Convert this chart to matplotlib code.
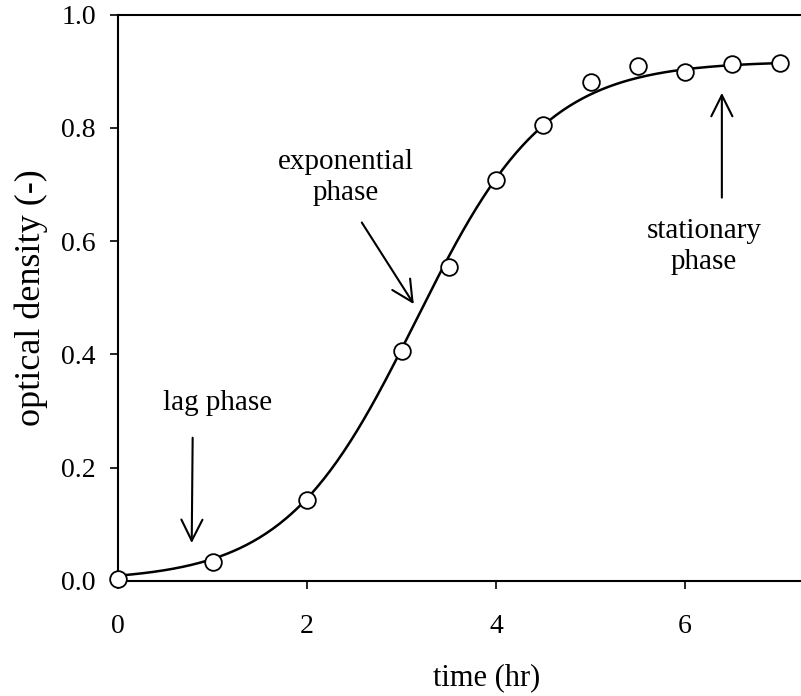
import numpy as np
import matplotlib
matplotlib.use("Agg")
from matplotlib import pyplot as plt

# measured growth data
time_hr = [0, 1, 2, 3, 3.5, 4, 4.5, 5, 5.5, 6, 6.5, 7]
optical_density = [0.003, 0.033, 0.143, 0.406, 0.555, 0.708, 0.806, 0.881,
                   0.909, 0.899, 0.913, 0.914]

# logistic model drawn through the points
K = 0.918
r = 1.45
t_mid = 3.15

x_ticks = [0, 2, 4, 6]
y_ticks = [0.0, 0.2, 0.4, 0.6, 0.8, 1.0]

# annotations: label, text position, arrow tail, arrow tip
notes = [
    ("lag phase", (1.05, 0.314), (0.79, 0.253), (0.78, 0.067)),
    ("exponential\nphase", (2.41, 0.712), (2.58, 0.633), (3.13, 0.489)),
    ("stationary\nphase", (6.20, 0.590), (6.39, 0.677), (6.39, 0.862)),
]

plt.rcParams["font.family"] = ["Liberation Serif", "DejaVu Serif"]
plt.rcParams["font.size"] = 20

fig = plt.figure(figsize=(8.01, 6.96), dpi=100)
ax = fig.add_axes([118 / 801, 1 - 581 / 696, 1 - 118 / 801, (581 - 14.7) / 696])

t = np.linspace(0, 7, 300)
fit = K / (1 + np.exp(-r * (t - t_mid)))
ax.plot(t, fit, color="black", lw=1.8, zorder=2)
ax.plot(time_hr, optical_density, "o", ms=12, mfc="white", mec="black",
        mew=1.3, zorder=3, clip_on=False)

for label, txt, tail, tip in notes:
    ax.annotate("", xy=tip, xytext=tail,
                arrowprops=dict(arrowstyle="->,head_length=0.4,head_width=0.2",
                                lw=1.5, color="black", mutation_scale=38,
                                shrinkA=0, shrinkB=0))
    ax.text(txt[0], txt[1], label, ha="center", va="center",
            fontsize=21, linespacing=1.25)

ax.set_xlim(0, (801 - 118) / 94.5)
ax.set_ylim(0, 1.0)
ax.set_xticks(x_ticks)
ax.set_yticks(y_ticks)
ax.set_yticklabels([f"{v:.1f}" for v in y_ticks])

ax.spines["right"].set_visible(False)
for s in ["left", "bottom", "top"]:
    ax.spines[s].set_linewidth(1.5)
ax.tick_params(axis="x", direction="out", length=6, width=1.2, pad=18)
ax.tick_params(axis="y", direction="out", length=6, width=1.2, pad=10)

ax.set_xlabel("time (hr)", fontsize=22)
ax.xaxis.set_label_coords((487 - 118) / (801 - 118), -0.145)
ax.set_ylabel("optical density (-)", fontsize=26)
ax.yaxis.set_label_coords(-0.102, 0.5)

fig.savefig("out.png", dpi=100)
